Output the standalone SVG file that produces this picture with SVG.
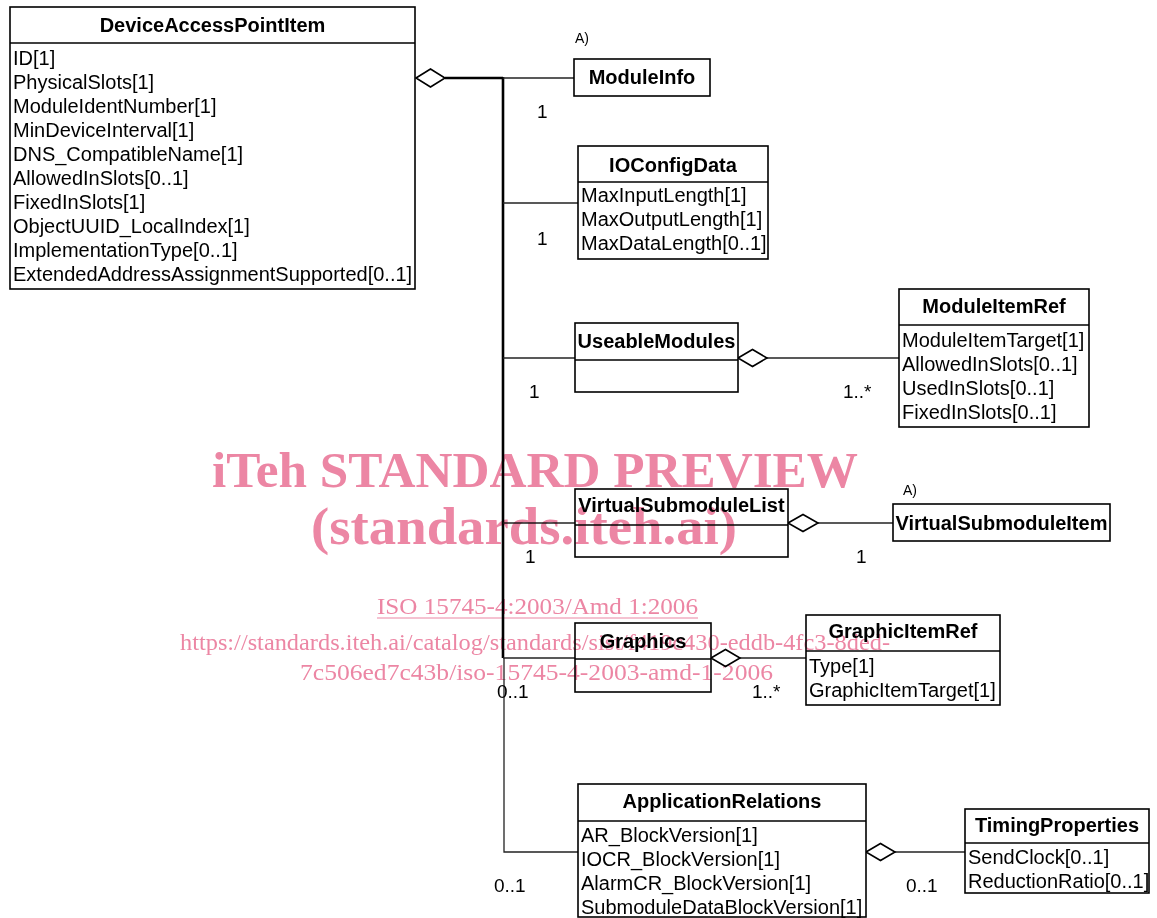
<svg xmlns="http://www.w3.org/2000/svg" width="1157" height="918" viewBox="0 0 1157 918">
  <style>
    .box { fill: #ffffff; stroke: #000000; stroke-width: 1.6; }
    .div { stroke: #000000; stroke-width: 1.4; }
    .title { font-family: "Liberation Sans", Arial, sans-serif; font-size: 20px; font-weight: bold; text-anchor: middle; fill: #000000; }
    .attr { font-family: "Liberation Sans", Arial, sans-serif; font-size: 20px; fill: #000000; }
    .lbl { font-family: "Liberation Sans", Arial, sans-serif; font-size: 19px; fill: #000000; }
    .note { font-family: "Liberation Sans", Arial, sans-serif; font-size: 14px; fill: #000000; }
    .line { fill: none; stroke: #222222; stroke-width: 1.3; }
    .bus { fill: none; stroke: #000000; stroke-width: 2.6; }
    .agg { fill: #ffffff; stroke: #000000; stroke-width: 1.6; }
    .wm { font-family: "Liberation Serif", "Times New Roman", serif; fill: #ec86a4; mix-blend-mode: multiply; }
  </style>

  <!-- connectors -->
  <g id="connectors">
    <!-- main aggregation bus from DeviceAccessPointItem -->
    <line class="bus" x1="445" y1="78" x2="503" y2="78"/>
    <line class="bus" x1="503" y1="77" x2="503" y2="658"/>
    <polyline class="line" points="504,658 504,852 578,852"/>
    <line class="line" x1="503" y1="78" x2="574" y2="78"/>
    <line class="line" x1="503" y1="203" x2="578" y2="203"/>
    <line class="line" x1="503" y1="358" x2="575" y2="358"/>
    <line class="line" x1="503" y1="523" x2="575" y2="523"/>
    <line class="line" x1="503" y1="658" x2="575" y2="658"/>
    <path class="agg" d="M416,78 L430.5,69 L445,78 L430.5,87 Z"/>

    <!-- UseableModules to ModuleItemRef -->
    <line class="line" x1="767" y1="358" x2="899" y2="358"/>
    <path class="agg" d="M738,358 L752.5,349.5 L767,358 L752.5,366.5 Z"/>

    <!-- VirtualSubmoduleList to VirtualSubmoduleItem -->
    <line class="line" x1="818" y1="523" x2="893" y2="523"/>
    <path class="agg" d="M788,523 L803,514.5 L818,523 L803,531.5 Z"/>

    <!-- Graphics to GraphicItemRef -->
    <line class="line" x1="740" y1="658" x2="806" y2="658"/>
    <path class="agg" d="M711,658 L725.5,649.5 L740,658 L725.5,666.5 Z"/>

    <!-- ApplicationRelations to TimingProperties -->
    <line class="line" x1="895" y1="852" x2="965" y2="852"/>
    <path class="agg" d="M866,852 L880.5,843.5 L895,852 L880.5,860.5 Z"/>
  </g>

  <!-- multiplicities and notes -->
  <g id="labels">
    <text class="lbl" x="537" y="118">1</text>
    <text class="lbl" x="537" y="245">1</text>
    <text class="lbl" x="529" y="398">1</text>
    <text class="lbl" x="843" y="398">1..*</text>
    <text class="lbl" x="525" y="563">1</text>
    <text class="lbl" x="856" y="563">1</text>
    <text class="lbl" x="497" y="698">0..1</text>
    <text class="lbl" x="752" y="698">1..*</text>
    <text class="lbl" x="494" y="892">0..1</text>
    <text class="lbl" x="906" y="892">0..1</text>
    <text class="note" x="575" y="43">A)</text>
    <text class="note" x="903" y="495">A)</text>
  </g>

  <g id="DeviceAccessPointItem">
    <rect class="box" x="10" y="7" width="405" height="282"/>
    <line class="div" x1="10" y1="43" x2="415" y2="43"/>
    <text class="title" x="212.5" y="32">DeviceAccessPointItem</text>
    <text class="attr" x="13" y="65">ID[1]</text>
    <text class="attr" x="13" y="89">PhysicalSlots[1]</text>
    <text class="attr" x="13" y="113">ModuleIdentNumber[1]</text>
    <text class="attr" x="13" y="137">MinDeviceInterval[1]</text>
    <text class="attr" x="13" y="161">DNS_CompatibleName[1]</text>
    <text class="attr" x="13" y="185">AllowedInSlots[0..1]</text>
    <text class="attr" x="13" y="209">FixedInSlots[1]</text>
    <text class="attr" x="13" y="233">ObjectUUID_LocalIndex[1]</text>
    <text class="attr" x="13" y="257">ImplementationType[0..1]</text>
    <text class="attr" x="13" y="281">ExtendedAddressAssignmentSupported[0..1]</text>
  </g>

  <g id="ModuleInfo">
    <rect class="box" x="574" y="59" width="136" height="37"/>
    <text class="title" x="642" y="84">ModuleInfo</text>
  </g>

  <g id="IOConfigData">
    <rect class="box" x="578" y="146" width="190" height="113"/>
    <line class="div" x1="578" y1="182" x2="768" y2="182"/>
    <text class="title" x="673" y="172">IOConfigData</text>
    <text class="attr" x="581" y="202">MaxInputLength[1]</text>
    <text class="attr" x="581" y="226">MaxOutputLength[1]</text>
    <text class="attr" x="581" y="250">MaxDataLength[0..1]</text>
  </g>

  <g id="UseableModules">
    <rect class="box" x="575" y="323" width="163" height="69"/>
    <line class="div" x1="575" y1="360" x2="738" y2="360"/>
    <text class="title" x="656.5" y="348">UseableModules</text>
  </g>

  <g id="ModuleItemRef">
    <rect class="box" x="899" y="289" width="190" height="138"/>
    <line class="div" x1="899" y1="325" x2="1089" y2="325"/>
    <text class="title" x="994" y="313">ModuleItemRef</text>
    <text class="attr" x="902" y="347">ModuleItemTarget[1]</text>
    <text class="attr" x="902" y="371">AllowedInSlots[0..1]</text>
    <text class="attr" x="902" y="395">UsedInSlots[0..1]</text>
    <text class="attr" x="902" y="419">FixedInSlots[0..1]</text>
  </g>

  <g id="VirtualSubmoduleList">
    <rect class="box" x="575" y="489" width="213" height="68"/>
    <line class="div" x1="575" y1="525" x2="788" y2="525"/>
    <text class="title" x="681.5" y="512">VirtualSubmoduleList</text>
  </g>

  <g id="VirtualSubmoduleItem">
    <rect class="box" x="893" y="504" width="217" height="37"/>
    <text class="title" x="1001.5" y="530">VirtualSubmoduleItem</text>
  </g>

  <g id="Graphics">
    <rect class="box" x="575" y="623" width="136" height="69"/>
    <line class="div" x1="575" y1="659" x2="711" y2="659"/>
    <text class="title" x="643" y="648">Graphics</text>
  </g>

  <g id="GraphicItemRef">
    <rect class="box" x="806" y="615" width="194" height="90"/>
    <line class="div" x1="806" y1="651" x2="1000" y2="651"/>
    <text class="title" x="903" y="638">GraphicItemRef</text>
    <text class="attr" x="809" y="673">Type[1]</text>
    <text class="attr" x="809" y="697">GraphicItemTarget[1]</text>
  </g>

  <g id="ApplicationRelations">
    <rect class="box" x="578" y="784" width="288" height="133"/>
    <line class="div" x1="578" y1="821" x2="866" y2="821"/>
    <text class="title" x="722" y="808">ApplicationRelations</text>
    <text class="attr" x="581" y="842">AR_BlockVersion[1]</text>
    <text class="attr" x="581" y="866">IOCR_BlockVersion[1]</text>
    <text class="attr" x="581" y="890">AlarmCR_BlockVersion[1]</text>
    <text class="attr" x="581" y="914">SubmoduleDataBlockVersion[1]</text>
  </g>

  <g id="TimingProperties">
    <rect class="box" x="965" y="809" width="184" height="84"/>
    <line class="div" x1="965" y1="843" x2="1149" y2="843"/>
    <text class="title" x="1057" y="832">TimingProperties</text>
    <text class="attr" x="968" y="864">SendClock[0..1]</text>
    <text class="attr" x="968" y="888">ReductionRatio[0..1]</text>
  </g>

  <!-- publisher overlay text -->
  <g id="overlay">
    <text class="wm" x="212" y="487" font-size="50" font-weight="bold" textLength="646" lengthAdjust="spacingAndGlyphs">iTeh STANDARD PREVIEW</text>
    <text class="wm" x="311" y="544" font-size="52" font-weight="bold" textLength="426" lengthAdjust="spacingAndGlyphs">(standards.iteh.ai)</text>
    <text class="wm" x="377" y="614" font-size="24" textLength="321" lengthAdjust="spacingAndGlyphs">ISO 15745-4:2003/Amd 1:2006</text>
    <line x1="377" y1="618" x2="698" y2="618" stroke="#ec86a4" stroke-width="1.2" style="mix-blend-mode:multiply"/>
    <text class="wm" x="180" y="650" font-size="24" textLength="710" lengthAdjust="spacingAndGlyphs">https://standards.iteh.ai/catalog/standards/sist/f419c430-eddb-4fc3-8ded-</text>
    <text class="wm" x="300" y="680" font-size="24" textLength="473" lengthAdjust="spacingAndGlyphs">7c506ed7c43b/iso-15745-4-2003-amd-1-2006</text>
  </g>
</svg>
